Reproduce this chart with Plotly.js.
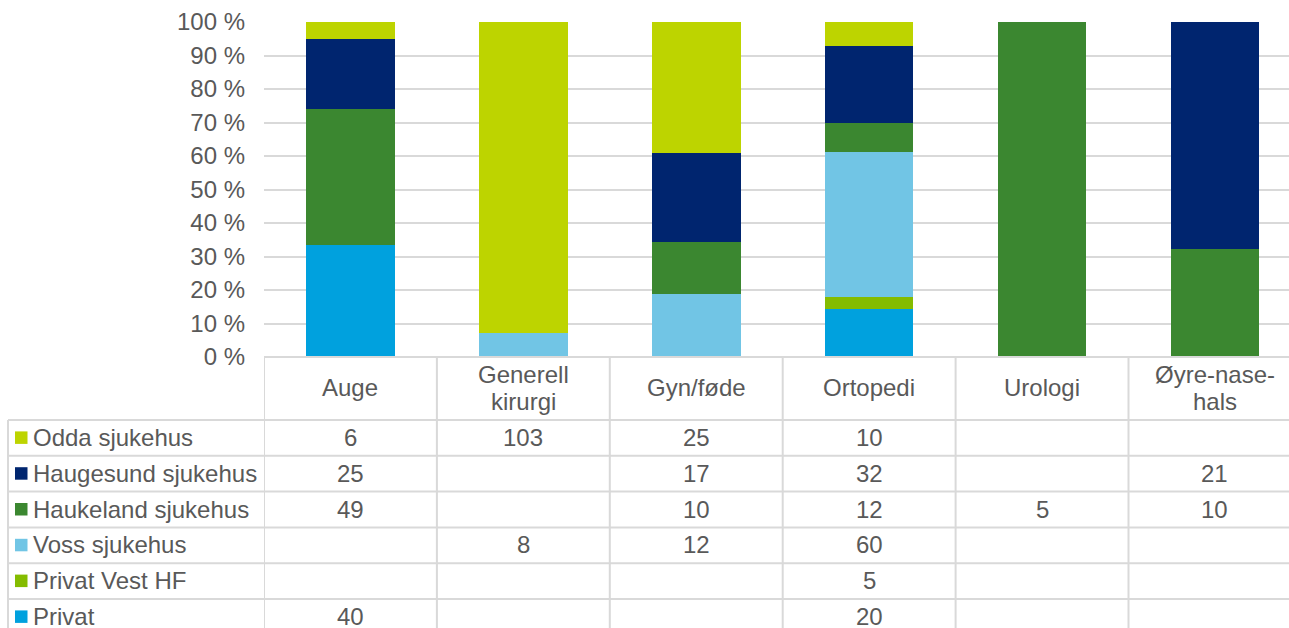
<!DOCTYPE html>
<html>
<head>
<meta charset="utf-8">
<script src="https://cdn.plot.ly/plotly-3.0.1.min.js"></script>
<style>
html,body{margin:0;padding:0;background:#fff;}
#chart{width:1289px;height:628px;}
</style>
</head>
<body>
<div id="chart"></div>
<script>
// ---- data ----
const categories = ['Auge', 'Generell kirurgi', 'Gyn/føde', 'Ortopedi', 'Urologi', 'Øyre-nase-hals'];
const categoryLabels = ['Auge', 'Generell<br>kirurgi', 'Gyn/føde', 'Ortopedi', 'Urologi', 'Øyre-nase-<br>hals'];
const seriesNames = ['Odda sjukehus', 'Haugesund sjukehus', 'Haukeland sjukehus', 'Voss sjukehus', 'Privat Vest HF', 'Privat'];
const odda       = [6, 103, 25, 10, null, null];
const haugesund  = [25, null, 17, 32, null, 21];
const haukeland  = [49, null, 10, 12, 5, 10];
const voss       = [null, 8, 12, 60, null, null];
const privatVest = [null, null, null, 5, null, null];
const privat     = [40, null, null, 20, null, null];
const seriesValues = [odda, haugesund, haukeland, voss, privatVest, privat];
const seriesColors = ['#bdd400', '#00256f', '#3b8730', '#71c5e5', '#84bc00', '#00a1de'];
const yTickSuffix = ' %';

// ---- layout geometry (pixels) ----
const W = 1289, H = 628;
const plotLeft = 264, plotTop = 22, plotBottom = 357;
const colW = 172.9;
const plotW = W - plotLeft;
const plotH = plotBottom - plotTop;
const tableLeft = 8;
const headerBottom = 420;
const rowH = 35.8;
const headerLineGap = 27;
const gridColor = '#d9d9d9';
const textColor = '#595959';
const fontFamily = 'Liberation Sans, Arial, sans-serif';
const fs = 24;

const py = p => (plotBottom - p) / plotH;   // pixel y -> paper y
const px = p => (p - plotLeft) / plotW;     // pixel x -> paper x

// bars, stacked bottom-first
const traces = [];
for (let s = seriesNames.length - 1; s >= 0; s--) {
  traces.push({
    type: 'bar',
    name: seriesNames[s],
    x: categories,
    y: seriesValues[s],
    marker: {color: seriesColors[s], line: {width: 0}},
    width: 0.512,
    hoverinfo: 'name+y'
  });
}

const shapes = [];
const annotations = [];
const lineStyle = {color: gridColor, width: 2};
const bottomPx = H + 20;

// top line of table (0 % line)
shapes.push({type: 'line', xref: 'paper', yref: 'paper', x0: 0, x1: 1, y0: 0, y1: 0, line: lineStyle, layer: 'above'});
// header bottom + row lines
for (let r = 0; r <= seriesNames.length; r++) {
  const yy = headerBottom + r * rowH;
  shapes.push({type: 'line', xref: 'paper', yref: 'paper', x0: px(tableLeft), x1: 1, y0: py(yy), y1: py(yy), line: lineStyle});
}
// vertical lines
shapes.push({type: 'line', xref: 'paper', yref: 'paper', x0: px(tableLeft), x1: px(tableLeft), y0: py(headerBottom), y1: py(bottomPx), line: lineStyle});
for (let c = 0; c <= categories.length; c++) {
  shapes.push({type: 'line', xref: 'x', yref: 'paper', x0: c - 0.5, x1: c - 0.5, y0: 0, y1: py(bottomPx), line: lineStyle});
}

// category header labels (each line placed separately for tighter spacing)
const headerMid = (plotBottom + headerBottom) / 2 - 1;
categories.forEach((c, i) => {
  const lines = categoryLabels[i].split('<br>');
  lines.forEach((ln, k) => {
    const cy = headerMid + (k - (lines.length - 1) / 2) * headerLineGap;
    annotations.push({
      xref: 'x', yref: 'paper', x: i, y: py(cy),
      text: ln, showarrow: false, xanchor: 'center', yanchor: 'middle',
      font: {family: fontFamily, size: fs, color: textColor}
    });
  });
});

// rows
seriesNames.forEach((name, r) => {
  const cy = headerBottom + (r + 0.5) * rowH - 0.5;
  // legend key square
  shapes.push({type: 'rect', xref: 'paper', yref: 'paper',
    x0: px(15), x1: px(27.5), y0: py(cy - 6), y1: py(cy + 6.5),
    fillcolor: seriesColors[r], line: {width: 0}});
  annotations.push({
    xref: 'paper', yref: 'paper', x: px(31), y: py(cy),
    text: name, showarrow: false, xanchor: 'left', yanchor: 'middle',
    font: {family: fontFamily, size: fs, color: textColor}
  });
  seriesValues[r].forEach((v, i) => {
    if (v === null || v === undefined) return;
    annotations.push({
      xref: 'x', yref: 'paper', x: i, y: py(cy),
      text: String(v), showarrow: false, xanchor: 'center', yanchor: 'middle',
      font: {family: fontFamily, size: fs, color: textColor}
    });
  });
});

const layout = {
  width: W, height: H,
  margin: {l: plotLeft, r: 0, t: plotTop, b: H - plotBottom, pad: 0},
  paper_bgcolor: '#fff', plot_bgcolor: '#fff',
  barmode: 'stack', barnorm: 'percent',
  showlegend: false,
  font: {family: fontFamily, size: fs, color: textColor},
  xaxis: {
    type: 'category', range: [-0.5, -0.5 + plotW / colW],
    showticklabels: false, showgrid: false, zeroline: false, showline: false, ticks: '',
    fixedrange: true
  },
  yaxis: {
    range: [0, 100], dtick: 10, tick0: 0, ticksuffix: yTickSuffix,
    showgrid: true, gridcolor: gridColor, gridwidth: 2,
    zeroline: false, showline: false, ticks: '', ticklabelstandoff: 18,
    tickfont: {family: fontFamily, size: fs, color: textColor},
    fixedrange: true
  },
  shapes: shapes,
  annotations: annotations
};

Plotly.newPlot('chart', traces, layout, {displayModeBar: false, staticPlot: true});
</script>
</body>
</html>
